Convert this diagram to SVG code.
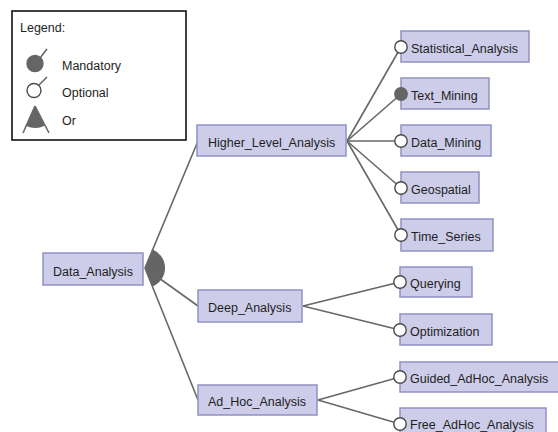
<svg xmlns="http://www.w3.org/2000/svg" width="558" height="432" viewBox="0 0 558 432">
  <style>
    .box { fill: #cdcde9; stroke: #9191c2; stroke-width: 1.5; }
    .lbl { font-family: "Liberation Sans", Arial, sans-serif; font-size: 12.5px; fill: #1e1e1e; }
    .edge { stroke: #676767; stroke-width: 1.6; fill: none; }
    .opt { fill: #ffffff; stroke: #4a4a4a; stroke-width: 1.4; }
    .man { fill: #656565; stroke: #656565; stroke-width: 1.4; }
    .orfill { fill: #656565; stroke: none; }
  </style>
  <rect width="558" height="432" fill="#ffffff"/>

  <!-- Legend -->
  <g id="legend">
    <rect x="12" y="11" width="174" height="129" fill="#ffffff" stroke="#111111" stroke-width="1.6"/>
    <text class="lbl" x="20" y="32">Legend:</text>
    <line class="edge" x1="40" y1="58" x2="47" y2="49"/>
    <circle class="man" cx="35" cy="63.5" r="8"/>
    <text class="lbl" x="62" y="70">Mandatory</text>
    <line class="edge" x1="39" y1="85" x2="47" y2="77"/>
    <circle class="opt" cx="34" cy="90.5" r="7"/>
    <text class="lbl" x="62" y="97">Optional</text>
    <path class="orfill" d="M35,106 L26.2,126 A21,21 0 0 0 45,125.5 Z"/>
    <line class="edge" x1="35" y1="106" x2="23" y2="133"/>
    <line class="edge" x1="35" y1="106" x2="49" y2="133"/>
    <text class="lbl" x="62" y="125">Or</text>
  </g>

  <!-- Connectors -->
  <g id="connectors">
    <path class="orfill" d="M145,268 L152.7,249.5 A20,20 0 0 1 152.3,286.6 Z"/>
    <line class="edge" x1="145" y1="268" x2="198" y2="141"/>
    <line class="edge" x1="145" y1="268" x2="198" y2="306"/>
    <line class="edge" x1="145" y1="268" x2="198" y2="400"/>

    <line class="edge" x1="347" y1="141" x2="401" y2="47"/>
    <line class="edge" x1="347" y1="141" x2="401" y2="94"/>
    <line class="edge" x1="347" y1="141" x2="401" y2="141"/>
    <line class="edge" x1="347" y1="141" x2="401" y2="188"/>
    <line class="edge" x1="347" y1="141" x2="401" y2="235"/>

    <line class="edge" x1="303" y1="306" x2="400" y2="282"/>
    <line class="edge" x1="303" y1="306" x2="400" y2="330"/>

    <line class="edge" x1="318" y1="400" x2="400" y2="377"/>
    <line class="edge" x1="318" y1="400" x2="400" y2="424"/>
  </g>

  <!-- Root -->
  <g id="Data_Analysis">
    <rect class="box" x="43" y="253" width="100" height="32"/>
    <text class="lbl" x="53" y="275.5">Data_Analysis</text>
  </g>

  <!-- Second level -->
  <g id="Higher_Level_Analysis">
    <rect class="box" x="197" y="125" width="149" height="31"/>
    <text class="lbl" x="208" y="146.5">Higher_Level_Analysis</text>
  </g>
  <g id="Deep_Analysis">
    <rect class="box" x="198" y="290" width="104" height="32"/>
    <text class="lbl" x="208" y="312">Deep_Analysis</text>
  </g>
  <g id="Ad_Hoc_Analysis">
    <rect class="box" x="198" y="385" width="119" height="30"/>
    <text class="lbl" x="208" y="406">Ad_Hoc_Analysis</text>
  </g>

  <!-- Leaves -->
  <g id="Statistical_Analysis">
    <rect class="box" x="401" y="31" width="128" height="31"/>
    <circle class="opt" cx="401" cy="47" r="6.2"/>
    <text class="lbl" x="411" y="52.5">Statistical_Analysis</text>
  </g>
  <g id="Text_Mining">
    <rect class="box" x="401" y="78" width="88" height="31"/>
    <circle class="man" cx="401" cy="94" r="6.2"/>
    <text class="lbl" x="411" y="99.5">Text_Mining</text>
  </g>
  <g id="Data_Mining">
    <rect class="box" x="401" y="125" width="90" height="31"/>
    <circle class="opt" cx="401" cy="141" r="6.2"/>
    <text class="lbl" x="411" y="146.5">Data_Mining</text>
  </g>
  <g id="Geospatial">
    <rect class="box" x="401" y="172" width="78" height="31"/>
    <circle class="opt" cx="401" cy="188" r="6.2"/>
    <text class="lbl" x="411" y="193.5">Geospatial</text>
  </g>
  <g id="Time_Series">
    <rect class="box" x="401" y="219" width="92" height="32"/>
    <circle class="opt" cx="401" cy="235" r="6.2"/>
    <text class="lbl" x="411" y="240.5">Time_Series</text>
  </g>
  <g id="Querying">
    <rect class="box" x="400" y="267" width="72" height="30"/>
    <circle class="opt" cx="400" cy="282" r="6.2"/>
    <text class="lbl" x="410" y="287.5">Querying</text>
  </g>
  <g id="Optimization">
    <rect class="box" x="400" y="314" width="92" height="31"/>
    <circle class="opt" cx="400" cy="330" r="6.2"/>
    <text class="lbl" x="410" y="335.5">Optimization</text>
  </g>
  <g id="Guided_AdHoc_Analysis">
    <rect class="box" x="400" y="362" width="160" height="30"/>
    <circle class="opt" cx="400" cy="377" r="6.2"/>
    <text class="lbl" x="410" y="382.5">Guided_AdHoc_Analysis</text>
  </g>
  <g id="Free_AdHoc_Analysis">
    <rect class="box" x="400" y="408" width="146" height="31"/>
    <circle class="opt" cx="400" cy="424" r="6.2"/>
    <text class="lbl" x="410" y="429">Free_AdHoc_Analysis</text>
  </g>
</svg>
